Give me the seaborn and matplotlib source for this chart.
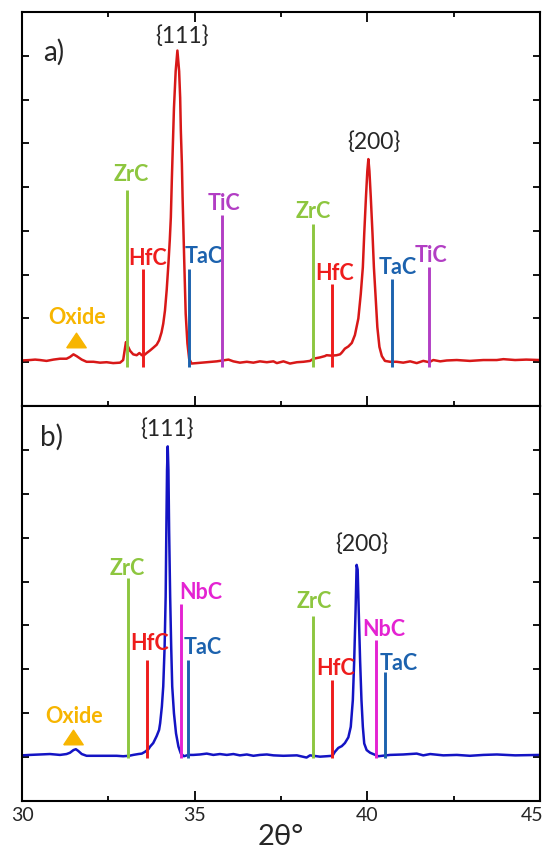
import matplotlib
matplotlib.use("Agg")
import matplotlib.pyplot as plt
import matplotlib.transforms as mtrans
import seaborn as sns
from matplotlib.ticker import MultipleLocator

# ---- data ----
# panel a) pattern (red)
theta_a = [30.00, 30.23, 30.38, 30.52, 30.71, 30.91, 31.10, 31.29, 31.39, 31.49, 31.58,
           31.73, 31.87, 32.07, 32.26, 32.45, 32.64, 32.84, 32.93, 32.98, 33.01, 33.05,
           33.13, 33.22, 33.32, 33.40, 33.47, 33.55, 33.61, 33.71, 33.80, 33.90, 33.97,
           34.04, 34.09, 34.14, 34.19, 34.24, 34.28, 34.31, 34.34, 34.37, 34.40, 34.45,
           34.50, 34.55, 34.58, 34.60, 34.63, 34.65, 34.70, 34.74, 34.79, 34.84, 34.91,
           35.06, 35.35, 35.64, 35.98, 36.12, 36.31, 36.51, 36.70, 36.89, 37.09, 37.28,
           37.38, 37.57, 37.76, 37.96, 38.15, 38.34, 38.44, 38.63, 38.77, 38.82, 38.97,
           39.11, 39.21, 39.26, 39.35, 39.45, 39.55, 39.64, 39.74, 39.81, 39.87, 39.91,
           39.96, 40.00, 40.03, 40.06, 40.10, 40.15, 40.19, 40.24, 40.29, 40.35, 40.42,
           40.51, 40.66, 40.85, 41.04, 41.24, 41.43, 41.62, 41.79, 41.91, 42.11, 42.30,
           42.59, 42.97, 43.36, 43.75, 43.94, 44.28, 44.60, 45.00]
counts_a = [0.04, 0.05, 0.06, 0.05, 0.03, 0.06, 0.08, 0.08, 0.12, 0.18, 0.14,
            0.06, 0.01, 0.01, -0.01, 0.00, -0.02, -0.01, 0.05, 0.31, 0.46, 0.39,
            0.26, 0.18, 0.16, 0.21, 0.16, 0.17, 0.21, 0.27, 0.33, 0.40, 0.50,
            0.68, 0.88, 1.18, 1.65, 2.25, 2.80, 3.31, 4.20, 5.00, 5.80, 6.65,
            7.12, 6.65, 6.04, 5.28, 4.53, 3.77, 2.25, 1.11, 0.43, 0.08, -0.03,
            -0.02, 0.00, 0.02, 0.06, 0.02, -0.01, 0.01, -0.01, 0.02, 0.00, 0.02,
            -0.02, 0.02, -0.03, 0.00, 0.01, 0.03, 0.08, 0.11, 0.14, 0.16, 0.15,
            0.16, 0.18, 0.22, 0.31, 0.36, 0.44, 0.62, 1.00, 1.56, 2.17, 2.93,
            3.77, 4.37, 4.64, 4.37, 3.77, 2.93, 2.17, 1.49, 0.80, 0.35, 0.14,
            0.03, 0.01, 0.01, -0.01, 0.02, -0.02, 0.03, 0.00, 0.05, 0.02, 0.04,
            0.05, 0.03, 0.05, 0.05, 0.07, 0.05, 0.06, 0.05]

# panel b) pattern (blue)
theta_b = [30.00, 30.23, 30.52, 30.81, 31.10, 31.29, 31.39, 31.49, 31.56, 31.63, 31.73,
           31.87, 32.16, 32.45, 32.74, 32.93, 33.10, 33.22, 33.37, 33.47, 33.56, 33.66,
           33.71, 33.80, 33.90, 33.97, 34.00, 34.05, 34.09, 34.13, 34.16, 34.18, 34.20,
           34.22, 34.24, 34.26, 34.29, 34.32, 34.35, 34.40, 34.46, 34.53, 34.60, 34.69,
           34.82, 34.96, 35.15, 35.35, 35.54, 35.73, 35.93, 36.12, 36.31, 36.51, 36.70,
           36.89, 37.09, 37.28, 37.57, 37.96, 38.24, 38.34, 38.63, 38.82, 38.99, 39.06,
           39.16, 39.26, 39.35, 39.45, 39.52, 39.58, 39.62, 39.66, 39.69, 39.72, 39.75,
           39.79, 39.83, 39.87, 39.91, 39.98, 40.08, 40.32, 40.66, 41.04, 41.43, 41.62,
           41.82, 42.20, 42.59, 42.97, 43.36, 43.75, 44.28, 45.00]
counts_b = [0.04, 0.05, 0.06, 0.07, 0.05, 0.07, 0.10, 0.16, 0.18, 0.14, 0.07,
            0.03, 0.03, 0.03, 0.03, 0.02, 0.03, 0.05, 0.07, 0.08, 0.12, 0.18,
            0.24, 0.32, 0.48, 0.62, 0.77, 1.15, 1.61, 2.52, 3.66, 5.18, 6.55,
            7.08, 6.55, 5.18, 3.66, 2.52, 1.61, 1.00, 0.54, 0.24, 0.08, 0.02,
            0.05, 0.05, 0.06, 0.08, 0.05, 0.07, 0.05, 0.07, 0.04, 0.06, 0.03,
            0.05, 0.06, 0.04, 0.03, 0.04, -0.01, 0.04, 0.01, 0.02, 0.03, 0.12,
            0.21, 0.25, 0.32, 0.45, 0.69, 1.30, 2.21, 3.36, 4.38, 4.27, 3.36,
            2.21, 1.30, 0.69, 0.31, 0.16, 0.10, 0.02, 0.05, 0.06, 0.08, 0.04,
            0.07, 0.04, 0.05, 0.03, 0.05, 0.06, 0.04, 0.05]

# reference stick patterns
phases_a = ["ZrC", "HfC", "TaC", "TiC", "ZrC", "HfC", "TaC", "TiC"]
stick_pos_a = [33.03, 33.50, 34.84, 35.79, 38.43, 38.98, 40.72, 41.79]
stick_h_a = [3.94, 2.13, 2.13, 3.37, 3.16, 1.79, 1.91, 2.17]

phases_b = ["ZrC", "HfC", "NbC", "TaC", "ZrC", "HfC", "NbC", "TaC"]
stick_pos_b = [33.07, 33.61, 34.61, 34.81, 38.44, 38.99, 40.24, 40.51]
stick_h_b = [4.07, 2.22, 3.49, 2.22, 3.22, 1.76, 2.67, 1.95]

oxide_pos = [31.55, 31.47]
peak_labels = ["{111}", "{200}"]
x_ticks = [30, 35, 40, 45]

# label placement (data units)
lab_xy_a = [(33.17, 4.14), (33.63, 2.22), (35.26, 2.27), (35.85, 3.48),
            (38.44, 3.29), (39.04, 1.88), (40.88, 2.01), (41.85, 2.30)]
lab_xy_b = [(33.04, 4.16), (33.71, 2.45), (35.18, 3.60), (35.24, 2.36),
            (38.46, 3.39), (39.07, 1.86), (40.49, 2.76), (40.92, 1.99)]
peak_xy_a = [(34.63, 7.45), (40.18, 5.03)]
peak_xy_b = [(34.21, 7.48), (39.83, 4.86)]

phase_colors = {"ZrC": "#8dc63f", "HfC": "#ee1c1c", "TaC": "#1c62ae",
                "TiC": "#b23ec4", "NbC": "#e423d2"}
oxide_color = "#f7b500"

sns.set_style("ticks")
plt.rcParams["font.family"] = ["Lato", "DejaVu Sans"]

fig = plt.figure(figsize=(5.49, 8.52), dpi=100)
ax_a = fig.add_axes([22 / 549, 1 - 406 / 852, 518 / 549, 394 / 852])
ax_b = fig.add_axes([22 / 549, 1 - 801 / 852, 518 / 549, 395 / 852])

tri = [(-1, -0.75), (1, -0.75), (0, 0.75), (-1, -0.75)]


def draw_panel(ax, theta, counts, color, phases, pos, heights, base, lab_xy,
               peak_xy, ox_x, ox_lab_y, ox_tri_y, tag, tag_xy):
    sns.lineplot(x=theta, y=counts, ax=ax, color=color, lw=1.8,
                 estimator=None, sort=False, zorder=2)
    for ph, x, h, (lx, ly) in zip(phases, pos, heights, lab_xy):
        c = phase_colors[ph]
        ax.vlines(x, base, h, color=c, lw=2.1, zorder=3)
        ax.text(lx, ly, ph, color=c, fontsize=15.5, fontweight="bold",
                ha="center", va="baseline")
    for txt, (px, py) in zip(peak_labels, peak_xy):
        ax.text(px, py, txt, fontsize=16.5, ha="center", va="center")
    ax.text(ox_x + 0.05, ox_lab_y, "Oxide", color=oxide_color, fontsize=15.5,
            fontweight="bold", ha="center", va="baseline")
    ax.plot([ox_x], [ox_tri_y], marker=tri, ms=14, color=oxide_color, ls="none")
    ax.text(tag_xy[0], tag_xy[1], tag, fontsize=20, ha="center", va="center")

    ax.set_xlim(30, 45)
    ax.set_ylim(-1, 8)
    ax.xaxis.set_major_locator(MultipleLocator(5))
    ax.xaxis.set_minor_locator(MultipleLocator(2.5))
    ax.set_yticks(range(0, 8))
    ax.tick_params(axis="y", which="major", direction="in", left=True, right=True,
                   labelleft=False, length=5, width=1.3, color="black")
    ax.tick_params(axis="x", which="major", direction="in", length=7, width=1.3,
                   color="black", labelsize=14, pad=4)
    ax.tick_params(axis="x", which="minor", direction="in", length=3.5, width=1.3,
                   color="black")
    ax.set_ylabel("")
    ax.set_xlabel("")
    for s in ax.spines.values():
        s.set_linewidth(1.5)
        s.set_color("black")


draw_panel(ax_a, theta_a, counts_a, "#d81818", phases_a, stick_pos_a, stick_h_a,
           -0.11, lab_xy_a, peak_xy_a, oxide_pos[0], 0.87, 0.50, "a)", (30.91, 7.07))
draw_panel(ax_b, theta_b, counts_b, "#1414c4", phases_b, stick_pos_b, stick_h_b,
           -0.03, lab_xy_b, peak_xy_b, oxide_pos[1], 0.78, 0.46, "b)", (30.84, 7.28))

ax_a.tick_params(axis="x", which="both", top=True, bottom=True, labelbottom=False)
ax_b.tick_params(axis="x", which="both", top=False, bottom=True, labelbottom=True)
ax_b.set_xticks(x_ticks)
ax_b.set_xticklabels([str(t) for t in x_ticks])
# keep the last label inside the canvas
last = ax_b.get_xticklabels()[-1]
last.set_transform(last.get_transform() +
                   mtrans.ScaledTranslation(-8 / 100, 0, fig.dpi_scale_trans))
ax_b.set_xlabel("2θ°", fontsize=21, labelpad=0)

fig.savefig("out.png", dpi=100)
